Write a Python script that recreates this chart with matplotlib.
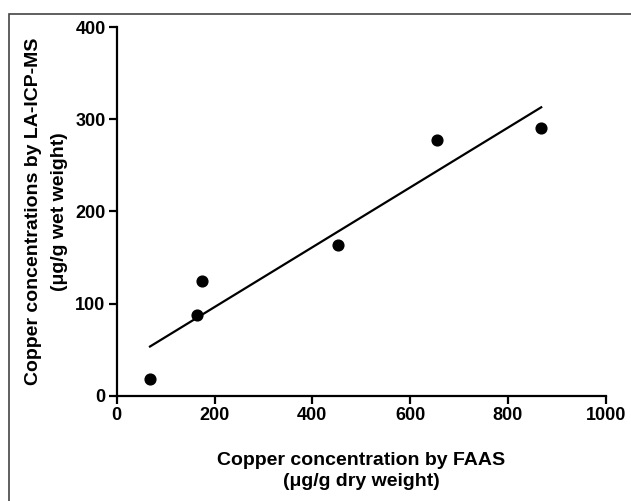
import numpy as np
from matplotlib import pyplot as plt
from matplotlib.patches import Rectangle

plt.rcParams['font.family'] = ['Liberation Sans', 'DejaVu Sans']
plt.rcParams['font.weight'] = 'bold'

# FAAS (dry weight) vs LA-ICP-MS (wet weight)
faas = [68, 165, 175, 452, 654, 868]
laicpms = [18, 88, 124, 164, 277, 290]

x_ticks = [0, 200, 400, 600, 800, 1000]
y_ticks = [0, 100, 200, 300, 400]

fig = plt.figure(figsize=(6.31, 5.01), dpi=100)
ax = fig.add_axes([0.185, 0.21, 0.775, 0.736])

# frame round the figure
fig.patches.append(Rectangle((9 / 631, -0.1), 1.2, 1 - 14 / 501 + 0.1,
                             transform=fig.transFigure, fill=False,
                             edgecolor='#444444', linewidth=1.2))

ax.scatter(faas, laicpms, s=60, color='black', zorder=3)

# linear fit
slope, icpt = np.polyfit(faas, laicpms, 1)
xf = np.array([min(faas), max(faas)])
ax.plot(xf, slope * xf + icpt, color='black', linewidth=1.6)

ax.set_xlim(0, 1000)
ax.set_ylim(0, 400)
ax.set_xticks(x_ticks)
ax.set_yticks(y_ticks)
ax.spines['top'].set_visible(False)
ax.spines['right'].set_visible(False)
for s in ['left', 'bottom']:
    ax.spines[s].set_linewidth(1.6)
ax.tick_params(direction='out', length=6, width=1.6, labelsize=13, pad=2)
for lab in ax.get_xticklabels() + ax.get_yticklabels():
    lab.set_fontweight('bold')

ax.set_xlabel('Copper concentration by FAAS\n(μg/g dry weight)',
              fontsize=14, fontweight='bold', labelpad=20, linespacing=1.3)
ax.set_ylabel('Copper concentrations by LA-ICP-MS\n(μg/g wet weight)',
              fontsize=14, fontweight='bold', labelpad=5, linespacing=1.75)

fig.savefig('out.png', dpi=100)
